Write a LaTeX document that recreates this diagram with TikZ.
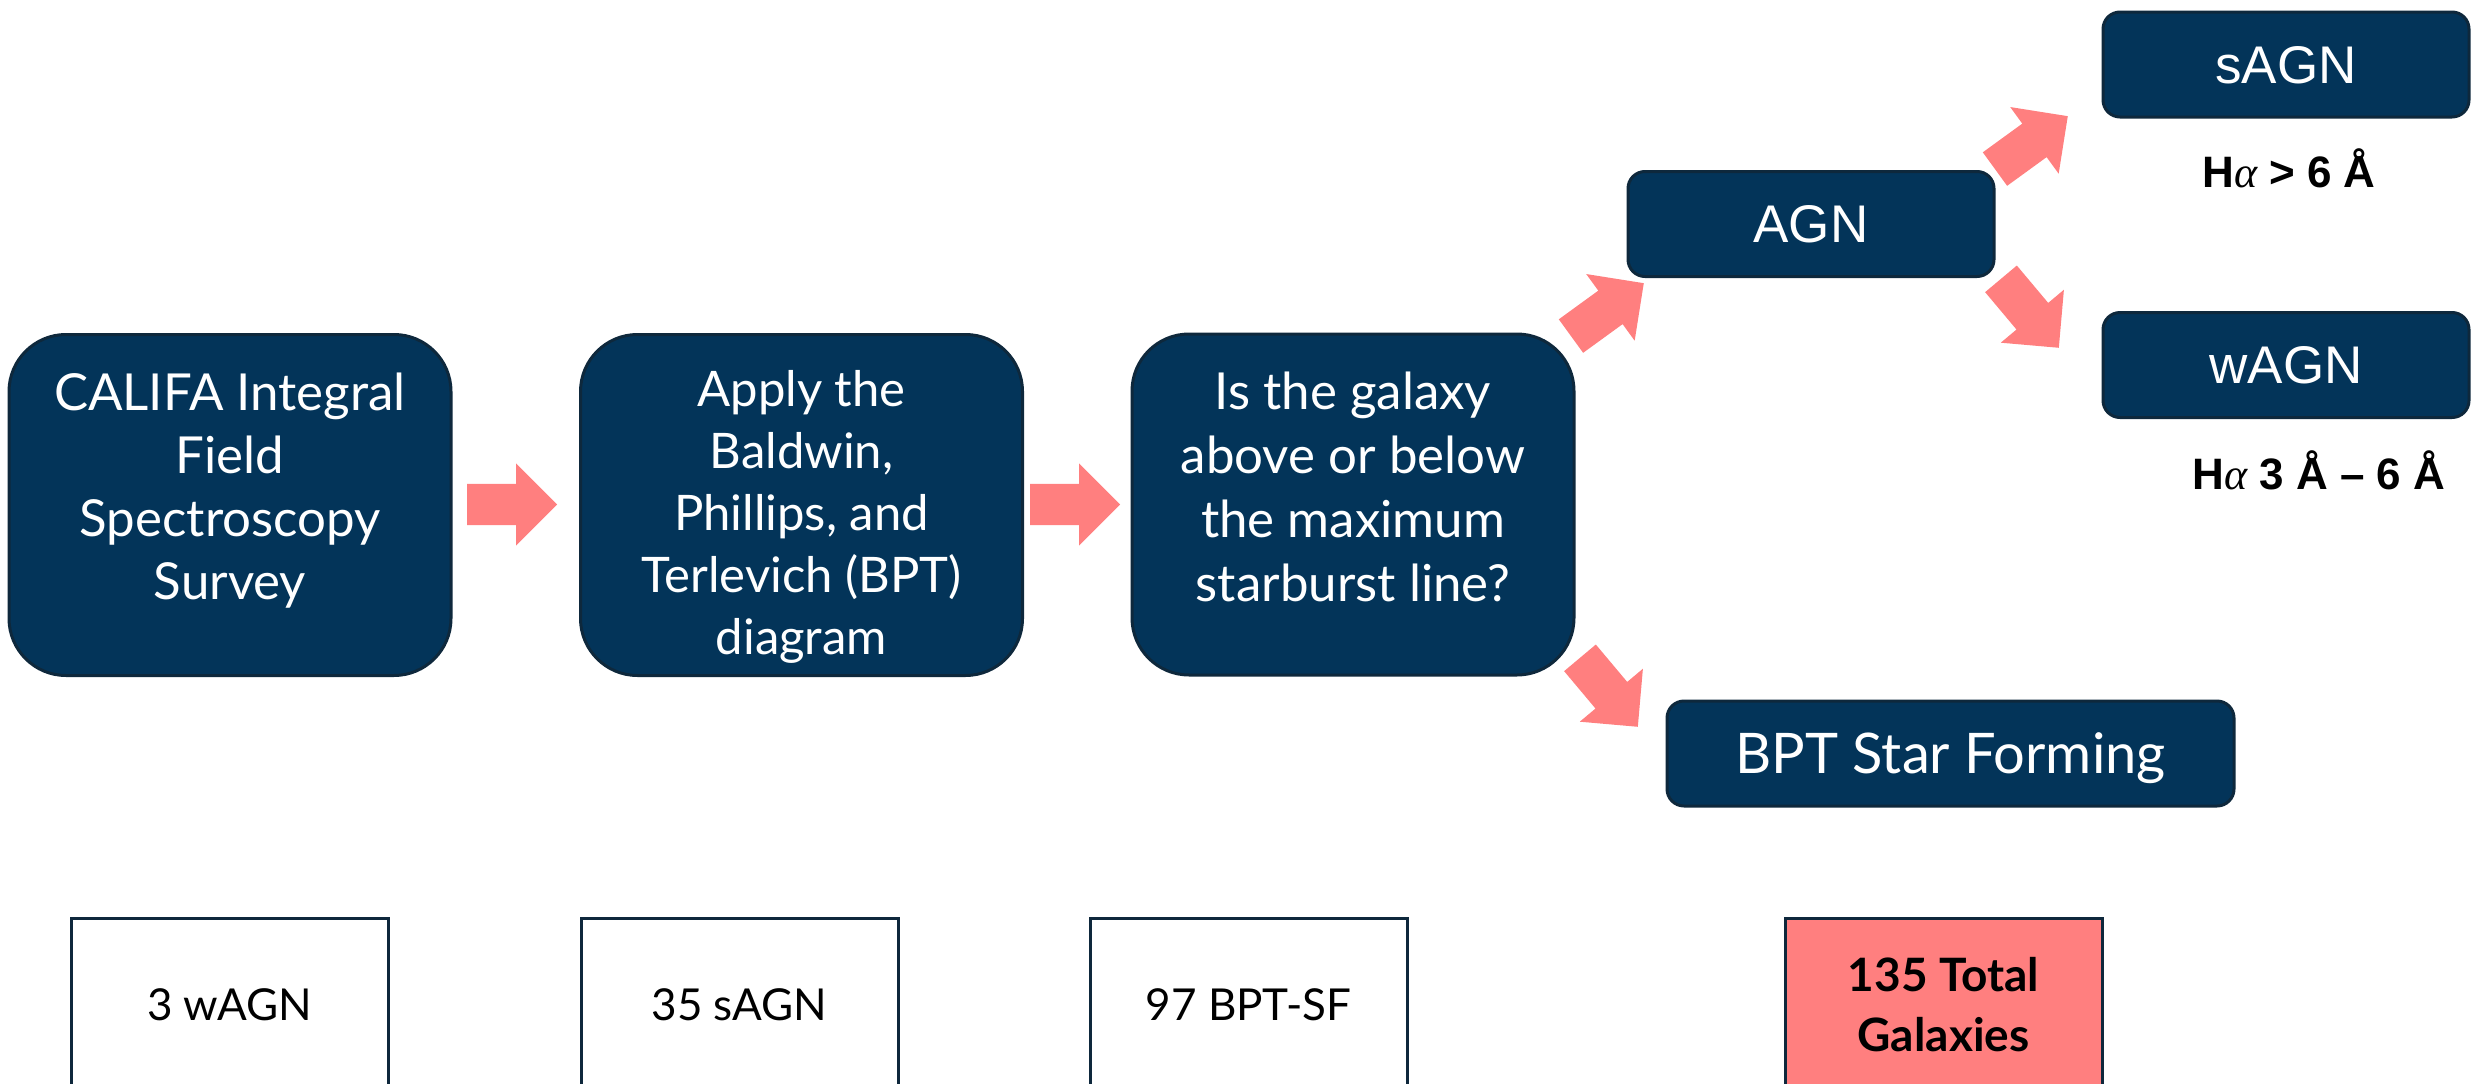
\documentclass[tikz,border=0pt]{standalone}
\usepackage{fontspec}
\setmainfont{Lato}
\newfontfamily\arialfont{Liberation Sans}
\newfontfamily\greekfont{Liberation Serif}
\usetikzlibrary{shapes.arrows,calc}
\definecolor{navy}{RGB}{3,52,89}
\definecolor{navyline}{RGB}{14,40,60}
\definecolor{salmon}{RGB}{255,127,127}
\newcommand{\halpha}{H{\greekfont\mdseries\itshape α}}
\begin{document}
\begin{tikzpicture}[x=1pt,y=-1pt,
 bigbox/.style={draw=navyline, line width=3pt, fill=navy, rounded corners=57pt, minimum width=442pt, minimum height=341pt, inner sep=0pt},
 smallbox/.style={draw=navyline, line width=3pt, fill=navy, rounded corners=17pt, minimum height=105pt, inner sep=0pt, text depth=0pt, text=white, font=\arialfont\fontsize{53}{60}\selectfont},
 boxtxt/.style={text=white, align=center, inner sep=0pt},
 blockarrow/.style={single arrow, fill=salmon, draw=none, minimum height=90pt, inner xsep=0pt, inner ysep=20.5pt, single arrow head extend=20.5pt, single arrow tip angle=90, anchor=tip},
 countbox/.style={draw=navyline, line width=3pt, fill=white, minimum width=317pt, minimum height=172pt, inner sep=0pt, anchor=north, font=\fontsize{44}{60}\selectfont},
 cutlabel/.style={font=\arialfont\bfseries\fontsize{44}{52}\selectfont, inner sep=0pt}
]
\useasboundingbox (0,0) rectangle (2471,1084);
\clip (0,0) rectangle (2471,1084);

% main flow boxes
\node[bigbox] (survey) at (230,505) {};
\node[boxtxt, font=\fontsize{51}{63}\selectfont] (surveytxt) at (230,490.5) {CALIFA Integral\\Field\\Spectroscopy\\Survey};
\node[bigbox] (bpt) at (801.5,505) {};
\node[boxtxt, font=\fontsize{49}{62}\selectfont] (bpttxt) at (801.5,516.5) {Apply the\\Baldwin,\\Phillips, and\\Terlevich (BPT)\\diagram};
\node[bigbox] (question) at (1353,504.5) {};
\node[boxtxt, font=\fontsize{51}{64}\selectfont] (questiontxt) at (1353,487) {Is the galaxy\\above or below\\the maximum\\starburst line?};

% classification boxes
\node[smallbox, minimum width=366pt] (agn) at (1811,224) {AGN};
\node[smallbox, minimum width=366pt] (sagn) at (2286,64.5) {sAGN};
\node[smallbox, minimum width=366pt] (wagn) at (2286,365) {wAGN};
\node[smallbox, minimum width=567pt, font=\fontsize{56}{60}\selectfont] (sf) at (1950.5,753.5) {BPT Star Forming};

% criteria labels
\node[cutlabel] (sagncut) at (2289,168.5) {\halpha{} > 6 Å};
\node[cutlabel] (wagncut) at (2319,470) {\halpha{} 3 Å – 6 Å};

% block arrows (placed by their tips)
\node[blockarrow] (arr1) at ($(bpt.west)+(-21.5,-0.5)$) {};
\node[blockarrow] (arr2) at ($(question.west)+(-10,0)$) {};
\node[blockarrow, rotate=36] (arr3) at (1644,283) {};
\node[blockarrow, rotate=-50] (arr4) at (1638,727) {};
\node[blockarrow, rotate=36] (arr5) at (2068,116) {};
\node[blockarrow, rotate=-50] (arr6) at (2059,348) {};

% count boxes
\node[countbox] (nwagn) at (229.5,917) {3 wAGN};
\node[countbox] (nsagn) at (739.5,917) {35 sAGN};
\node[countbox] (nsf) at (1248.5,917) {97 BPT-SF};
\node[countbox, fill=salmon, align=center, font=\bfseries\fontsize{46}{60}\selectfont] (ntotal) at (1943.5,917) {135 Total\\Galaxies};
\end{tikzpicture}
\end{document}
